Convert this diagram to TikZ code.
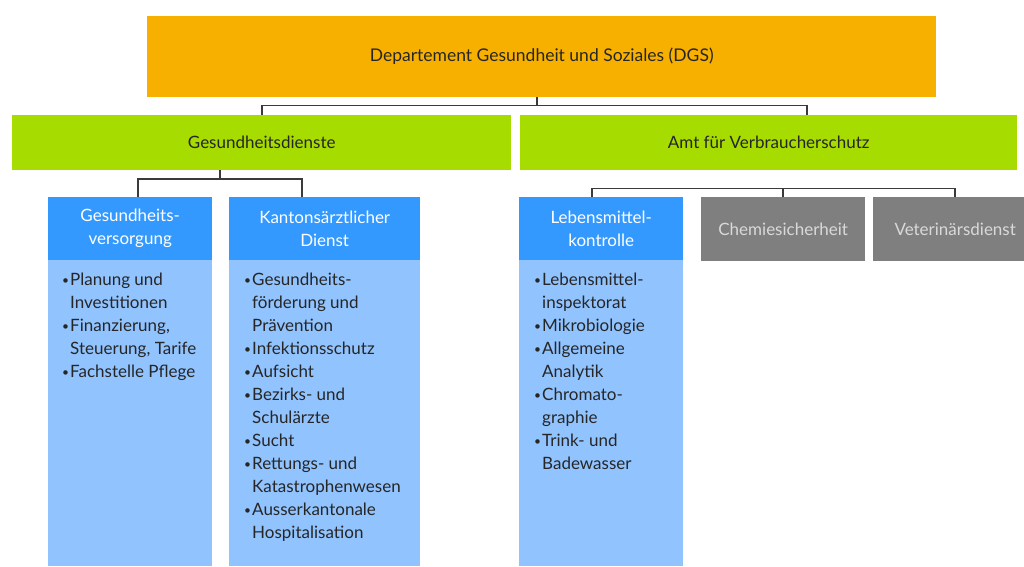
\documentclass[tikz,border=0pt]{standalone}
\usepackage{fontspec}
\setmainfont{Lato}
\definecolor{dgsorange}{HTML}{F8B000}
\definecolor{amtgreen}{HTML}{A6DC00}
\definecolor{hdrblue}{HTML}{3399FF}
\definecolor{bodyblue}{HTML}{91C3FF}
\definecolor{boxgray}{HTML}{7F7F7F}
\definecolor{graytext}{HTML}{D9D9D9}
\definecolor{darktext}{HTML}{262626}
\definecolor{linecol}{HTML}{3A3A3A}
\newcommand\bitem[1]{\makebox[8pt][l]{\raisebox{0.5pt}{\fontsize{12}{12}\selectfont\textbullet}}#1}
\newcommand\bcont[1]{\hspace*{8pt}#1}
\begin{document}
\begin{tikzpicture}[x=1pt,y=-1pt,
  box/.style={draw=none, inner sep=0pt, anchor=north west, align=center,
    font=\fontsize{17}{23}\selectfont},
  lvlone/.style={box, fill=dgsorange, text=darktext, font=\fontsize{17.5}{23}\selectfont},
  lvltwo/.style={box, fill=amtgreen, text=darktext},
  hdr/.style={box, fill=hdrblue, text=white},
  bodybox/.style={box, fill=bodyblue},
  graybox/.style={box, fill=boxgray, text=graytext},
  items/.style={inner sep=0pt, anchor=north west, align=left, text=darktext,
    font=\fontsize{17}{23}\selectfont},
  conn/.style={draw=linecol, line width=1.6pt}
]
\useasboundingbox (0,0) rectangle (1024,566);
\fill[white] (0,0) rectangle (1024,566);

% top level
\node[lvlone, minimum width=789pt, minimum height=81pt] (dgs) at (147,16)
  {Departement Gesundheit und Soziales (DGS)};

% second level
\node[lvltwo, minimum width=499pt, minimum height=55pt] (gd) at (12,115)
  {Gesundheitsdienste};
\node[lvltwo, minimum width=497pt, minimum height=55pt] (avs) at (520,115)
  {Amt für Verbraucherschutz};

% third level, left
\node[bodybox, minimum width=164pt, minimum height=306pt] (gvb) at (48,260) {};
\node[hdr, minimum width=164pt, minimum height=63pt] (gv) at (48,197)
  {Gesundheits-\\versorgung};
\node[bodybox, minimum width=191pt, minimum height=306pt] (kdb) at (229,260) {};
\node[hdr, minimum width=191pt, minimum height=63pt] (kd) at (229,197)
  {Kantonsärztlicher\\Dienst};

% third level, right
\node[bodybox, minimum width=164pt, minimum height=306pt] (lkb) at (519,260) {};
\node[hdr, minimum width=164pt, minimum height=63pt] (lk) at (519,197)
  {Lebensmittel-\\kontrolle};
\node[graybox, minimum width=164pt, minimum height=64pt] (chem) at (701,197)
  {Chemiesicherheit};
\node[graybox, minimum width=151pt, minimum height=64pt] (vet) at (873,197)
  {\hspace*{13pt}Veterinärsdienst};

% item lists
\node[items] (gvi) at (62,269) {\strut\bitem{Planung und}\\
  \bcont{Investitionen}\\
  \bitem{Finanzierung,}\\
  \bcont{Steuerung, Tarife}\\
  \bitem{Fachstelle Pflege}};
\node[items] (kdi) at (244,269) {\strut\bitem{Gesundheits-}\\
  \bcont{förderung und}\\
  \bcont{Prävention}\\
  \bitem{Infektionsschutz}\\
  \bitem{Aufsicht}\\
  \bitem{Bezirks- und}\\
  \bcont{Schulärzte}\\
  \bitem{Sucht}\\
  \bitem{Rettungs- und}\\
  \bcont{Katastrophenwesen}\\
  \bitem{Ausserkantonale}\\
  \bcont{Hospitalisation}};
\node[items] (lki) at (534,269) {\strut\bitem{Lebensmittel-}\\
  \bcont{inspektorat}\\
  \bitem{Mikrobiologie}\\
  \bitem{Allgemeine}\\
  \bcont{Analytik}\\
  \bitem{Chromato-}\\
  \bcont{graphie}\\
  \bitem{Trink- und}\\
  \bcont{Badewasser}};

% connectors
\coordinate (dgsstub) at ([xshift=-4.5pt]dgs.south);
\draw[conn] (dgsstub) -- ++(0,8) coordinate (toph)
  -| (gd.north);
\draw[conn] (toph) -| ([xshift=38.5pt]avs.north);

\coordinate (gdstub) at ([xshift=-41.5pt]gd.south);
\draw[conn] (gdstub) -- ++(0,8.5) coordinate (lefth)
  -| ([xshift=8pt]gv.north);
\draw[conn] (lefth) -| ([xshift=-22.5pt]kd.north);

\coordinate (avsh) at ([yshift=8.5pt]chem.north);
\draw[conn] ([xshift=-9pt]lk.north) |- (avsh);
\draw[conn] (chem.north) -- (avsh);
\draw[conn] (avsh) -| ([xshift=6.5pt]vet.north);
\end{tikzpicture}
\end{document}
